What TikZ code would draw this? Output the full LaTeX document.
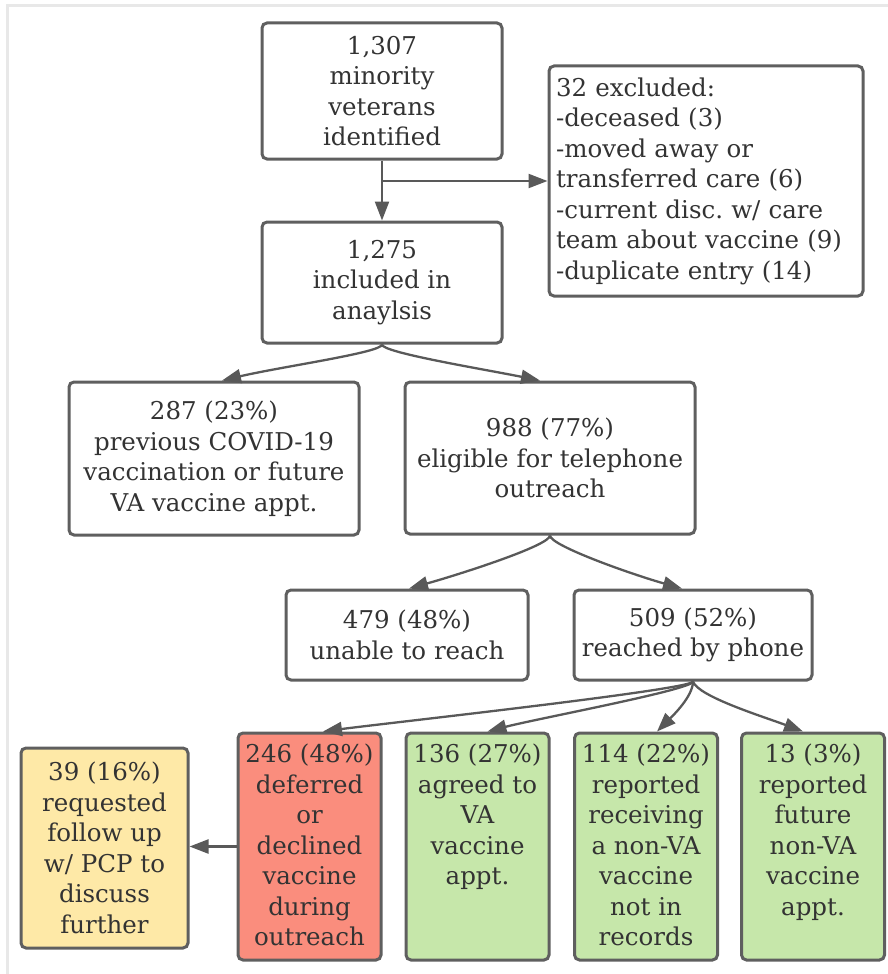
\documentclass[tikz,border=0pt]{standalone}
\usepackage{fontspec}
\setmainfont{DejaVu Serif}
\usetikzlibrary{arrows.meta}
\definecolor{bordc}{HTML}{5F5F5F}
\definecolor{arrc}{HTML}{595959}
\definecolor{redf}{HTML}{FA8D7D}
\definecolor{greenf}{HTML}{C6E7AA}
\definecolor{yellf}{HTML}{FEE9A7}
\definecolor{framec}{HTML}{E8E8E8}
\definecolor{txtc}{HTML}{333333}
\begin{document}
\frenchspacing
\begin{tikzpicture}[x=1pt,y=-1pt,
 box/.style={draw=bordc, line width=3pt, rounded corners=5pt, fill=white, align=center, inner sep=0pt, text=txtc, font=\fontsize{24.5}{30.5}\selectfont},
 tallbox/.style={box, minimum width=143pt, minimum height=227pt},
 arr/.style={draw=arrc, line width=2.3pt, -{Triangle[length=19pt,width=14pt]}},
]
\useasboundingbox (0,0) rectangle (888,974);
\draw[framec, line width=3pt] (7.5,974) -- (7.5,6) -- (888,6);

\node[box, minimum width=240pt, minimum height=136pt] (A) at (382,91) {1,307\\minority\\veterans\\identified};
\node[box, minimum height=230pt, text width=300pt, inner xsep=7pt, align=left] (X) at (706,181) {32 excluded:\\-deceased (3)\\-moved away or\\transferred care (6)\\-current disc. w/ care\\team about vaccine (9)\\-duplicate entry (14)};
\node[box, minimum width=240pt, minimum height=121pt] (B) at (382,282.5) {1,275\\included in\\anaylsis};
\node[box, minimum width=290pt, minimum height=153pt] (C) at (214,458.5) {287 (23\%)\\previous COVID-19\\vaccination or future\\VA vaccine appt.};
\node[box, minimum width=290pt, minimum height=152pt] (D) at (550,458) {988 (77\%)\\eligible for telephone\\outreach};
\node[box, minimum width=242pt, minimum height=90pt] (E) at (407,635) {479 (48\%)\\unable to reach};
\node[box, minimum width=238pt, minimum height=90pt] (F) at (693,635) {509 (52\%)\\reached by phone};

\node[box, fill=yellf, minimum width=167pt, minimum height=200pt] (Y) at (104.5,848) {39 (16\%)\\requested\\follow up\\w/ PCP to\\discuss\\further};
\node[tallbox, fill=redf] (R) at (309.5,846.5) {\parbox[c][205pt][t]{140pt}{\centering 246 (48\%)\\deferred\\or\\declined\\vaccine\\during\\outreach}};
\node[tallbox, fill=greenf] (G1) at (477.5,846.5) {\parbox[c][205pt][t]{140pt}{\centering 136 (27\%)\\agreed to\\VA\\vaccine\\appt.}};
\node[tallbox, fill=greenf] (G2) at (646,846.5) {\parbox[c][205pt][t]{140pt}{\centering 114 (22\%)\\reported\\receiving\\a non-VA\\vaccine\\not in\\records}};
\node[tallbox, fill=greenf] (G3) at (813,846.5) {\parbox[c][205pt][t]{140pt}{\centering 13 (3\%)\\reported\\future\\non-VA\\vaccine\\appt.}};

\coordinate (split) at (A.south |- X.west);
\draw[arr] (A.south) -- (B.north);
\draw[arr] (split) -- (X.west);

\draw[arr] (B.south) .. controls +(0,8) and +(60,-14) .. ([xshift=8pt]C.north);
\draw[arr] (B.south) .. controls +(0,8) and +(-60,-12) .. ([xshift=-10pt]D.north);

\draw[arr] (D.south) .. controls +(0,10) and +(50,-14) .. ([xshift=2pt]E.north);
\draw[arr] (D.south) .. controls +(0,10) and +(-50,-14) .. ([xshift=-11pt]F.north);

\draw[arr] (F.south) .. controls +(0,8) and +(60,-8) .. ([xshift=13.5pt]R.north);
\draw[arr] (F.south) .. controls +(0,8) and +(50,-13) .. ([xshift=10pt]G1.north);
\draw[arr] (F.south) .. controls +(0,15) and +(15,-15) .. ([xshift=11pt]G2.north);
\draw[arr] (F.south) .. controls +(5,15) and +(-40,-15) .. ([xshift=-10pt]G3.north);

\draw[arr] (R.west) -- (R.west -| Y.east);
\end{tikzpicture}
\end{document}
